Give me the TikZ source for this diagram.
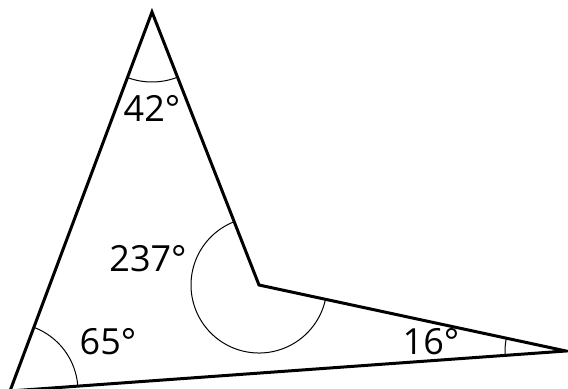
\documentclass[tikz,border=0pt]{standalone}
\usepackage{fontspec}
\setmainfont{Open Sans}
\usetikzlibrary{angles}

\begin{document}
\begin{tikzpicture}[x=0.5pt, y=0.5pt,
  side/.style={line width=1.5pt, line join=miter},
  anglearc/.style={draw, line width=0.5pt},
  deglbl/.style={font=\fontsize{18}{20}\selectfont, inner sep=0pt}
]
\useasboundingbox (0,0) rectangle (568,388);

\coordinate (top)   at (152,376);
\coordinate (inner) at (259,103);
\coordinate (right) at (566,37);
\coordinate (left)  at (10,-3);

\draw[side] (top) -- (inner) -- (right) -- (left) -- cycle;

\pic[anglearc, angle radius=35pt]   {angle = left--top--inner};
\pic[anglearc, angle radius=34pt]   {angle = top--inner--right};
\pic[anglearc, angle radius=30.5pt] {angle = inner--right--left};
\pic[anglearc, angle radius=34pt]   {angle = right--left--top};

\node[deglbl] (atop)   at (152,280) {42°};
\node[deglbl] (ainner) at (148,129) {237°};
\node[deglbl] (aleft)  at (108,46)  {65°};
\node[deglbl] (aright) at (431,46)  {16°};
\end{tikzpicture}
\end{document}
